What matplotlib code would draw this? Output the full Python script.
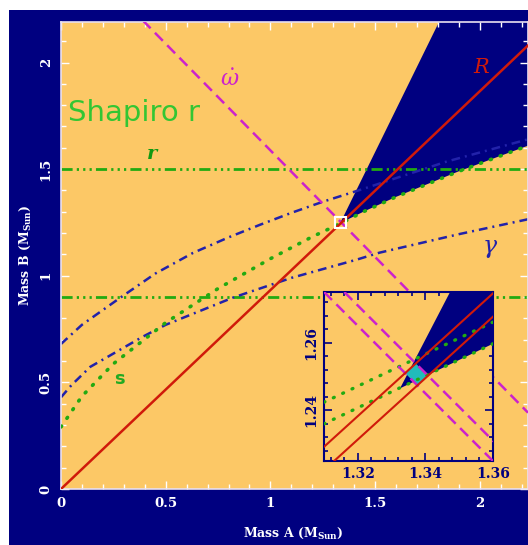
import matplotlib
matplotlib.use('Agg')
import matplotlib.pyplot as plt
from matplotlib.patches import Rectangle, Polygon
from matplotlib.ticker import MultipleLocator

# ---- data (masses in solar units) ----
# mass ratio R
R_a = [0.0, 2.23]
R_b = [0.0, 2.08]
# periastron advance (total mass)
omdot_a = [0.39, 2.23]
omdot_b = [2.198, 0.358]
# Shapiro s
s_a = [0.0, 0.1, 0.25, 0.5, 0.75, 1.0, 1.2, 1.3375, 1.45, 1.6, 1.9, 2.23]
s_b = [0.291, 0.435, 0.587, 0.78, 0.94, 1.08, 1.183, 1.2465, 1.303, 1.37, 1.49, 1.61]
# gamma, upper and lower bound
gam_hi_a = [0.0, 0.1, 0.28, 0.45, 0.63, 0.8, 0.95, 1.1, 1.25, 1.42, 1.84, 2.23]
gam_hi_b = [0.68, 0.77, 0.895, 1.01, 1.107, 1.18, 1.239, 1.295, 1.347, 1.40, 1.535, 1.64]
gam_lo_a = [0.0, 0.05, 0.14, 0.39, 0.5, 0.82, 1.1, 1.41, 1.52, 1.9, 2.23]
gam_lo_b = [0.43, 0.487, 0.573, 0.714, 0.77, 0.897, 0.99, 1.075, 1.108, 1.195, 1.265]
# Shapiro r band
r_levels = [0.9, 1.5]
# excluded wedge (mass functions)
wedge_a = [1.3325, 1.3473, 1.81, 2.3, 2.3, 2.23, 1.9, 1.6, 1.45, 1.36]
wedge_b = [1.2465, 1.275, 2.2, 2.2, 1.61, 1.61, 1.49, 1.37, 1.303, 1.2597]

# inset (zoom on the crossing point)
ins_R_hi_a = [1.31, 1.36]
ins_R_hi_b = [1.2292, 1.2746]
ins_R_lo_a = [1.313, 1.36]
ins_R_lo_b = [1.225, 1.2677]
ins_s_hi_a = [1.31, 1.36]
ins_s_hi_b = [1.2424, 1.2661]
ins_s_lo_a = [1.31, 1.36]
ins_s_lo_b = [1.2360, 1.2597]
ins_om_lo_a = [1.31, 1.36]
ins_om_lo_b = [1.275, 1.225]
ins_om_hi_a = [1.316, 1.366]
ins_om_hi_b = [1.275, 1.225]
allowed_a = [1.3340, 1.3372, 1.3408, 1.3377]
allowed_b = [1.2510, 1.2538, 1.2502, 1.2473]

NAVY = '#000080'
ORANGE = '#FCC866'
RED = '#D01A0A'
MAGENTA = '#CC22CC'
BLUE = '#2222AA'
GREEN = '#22AA11'
CYAN = '#22BBBB'

plt.rcParams['mathtext.fontset'] = 'dejavuserif'

fig = plt.figure(figsize=(5.28, 5.45), dpi=100)
fig.patch.set_facecolor('white')
fig.patches.append(Rectangle((9 / 528, 0), 1, 1 - 10 / 545, transform=fig.transFigure,
                             facecolor=NAVY, edgecolor='none', zorder=-10))

ax = fig.add_axes([61 / 528, 1 - 489 / 545, 1 - 61 / 528, 467 / 545])
ax.set_facecolor(ORANGE)
ax.set_xlim(0, 2.23)
ax.set_ylim(0, 2.19)

ax.add_patch(Polygon(list(zip(wedge_a, wedge_b)), closed=True, facecolor=NAVY,
                     edgecolor='none', zorder=1))

for lev in r_levels:
    ax.axhline(lev, color=GREEN, lw=2, linestyle=(0, (4, 1.5, 0.8, 1.5, 0.8, 1.5, 0.8, 1.5)), zorder=2)
ax.plot(gam_hi_a, gam_hi_b, color=BLUE, lw=1.8, linestyle=(0, (3.5, 2, 0.8, 2)), zorder=2)
ax.plot(gam_lo_a, gam_lo_b, color=BLUE, lw=1.8, linestyle=(0, (3.5, 2, 0.8, 2)), zorder=2)
ax.plot(s_a, s_b, color=GREEN, lw=2.6, linestyle=(0, (0.3, 2.6)), dash_capstyle='round', zorder=3)
ax.plot(omdot_a, omdot_b, color=MAGENTA, lw=1.8, linestyle=(0, (4.5, 2.5)), zorder=3)
ax.plot(R_a, R_b, color=RED, lw=1.8, zorder=4)
ax.add_patch(Rectangle((1.31, 1.225), 0.05, 0.05, facecolor='none', edgecolor='white',
                       lw=1.5, zorder=5))

ax.text(0.035, 1.765, 'Shapiro r', color='#33C633', fontsize=21, ha='left', va='center')
ax.text(0.435, 1.57, 'r', color='#119911', fontsize=14, family='DejaVu Serif',
        style='italic', weight='bold', ha='center', va='center')
ax.text(0.805, 1.92, r'$\dot{\omega}$', color=MAGENTA, fontsize=16, ha='center', va='center')
ax.text(2.005, 1.976, 'R', color=RED, fontsize=15, family='DejaVu Serif', style='italic',
        ha='center', va='center')
ax.text(2.05, 1.13, r'$\gamma$', color=BLUE, fontsize=17, ha='center', va='center')
ax.text(0.28, 0.515, 's', color='#22AA22', fontsize=13, weight='bold', ha='center', va='center')

ax.xaxis.set_major_locator(MultipleLocator(0.5))
ax.xaxis.set_minor_locator(MultipleLocator(0.1))
ax.yaxis.set_major_locator(MultipleLocator(0.5))
ax.yaxis.set_minor_locator(MultipleLocator(0.1))
ax.xaxis.set_major_formatter(plt.FuncFormatter(lambda v, p: '{:g}'.format(v)))
ax.yaxis.set_major_formatter(plt.FuncFormatter(lambda v, p: '{:g}'.format(v)))
ax.tick_params(which='both', direction='in', top=True, right=True, color='white',
               labelcolor='white', labelsize=9.5)
ax.tick_params(which='major', length=6, width=1, pad=6)
ax.tick_params(which='minor', length=3.5, width=1)
for lab in ax.get_xticklabels() + ax.get_yticklabels():
    lab.set_family('DejaVu Serif')
    lab.set_weight('bold')
for lab in ax.get_yticklabels():
    lab.set_rotation(90)
    lab.set_va('center')
for sp in ax.spines.values():
    sp.set_color('#E8E0F0')
    sp.set_linewidth(1.2)

fig.text(293 / 528, 1 - 533 / 545, r'Mass A (M$_{\mathbf{Sun}}$)', color='white',
         fontsize=9, family='DejaVu Serif', weight='bold', ha='center', va='center')
fig.text(25 / 528, 1 - 255 / 545, r'Mass B (M$_{\mathbf{Sun}}$)', color='white',
         fontsize=9, family='DejaVu Serif', weight='bold', ha='center', va='center',
         rotation=90)

# inset
ins = fig.add_axes([324 / 528, 1 - 461 / 545, 169 / 528, 169 / 545])
ins.set_facecolor(ORANGE)
ins.set_xlim(1.31, 1.36)
ins.set_ylim(1.225, 1.275)
ins.add_patch(Polygon(list(zip(wedge_a, wedge_b)), closed=True, facecolor=NAVY,
                      edgecolor='none', zorder=1))
ins.add_patch(Polygon(list(zip(allowed_a, allowed_b)), closed=True, facecolor=CYAN,
                      edgecolor='none', zorder=2))
ins.plot(ins_s_hi_a, ins_s_hi_b, color=GREEN, lw=2.4, linestyle=(0, (0.3, 2.8)),
         dash_capstyle='round', zorder=3)
ins.plot(ins_s_lo_a, ins_s_lo_b, color=GREEN, lw=2.4, linestyle=(0, (0.3, 2.8)),
         dash_capstyle='round', zorder=3)
ins.plot(ins_om_lo_a, ins_om_lo_b, color=MAGENTA, lw=1.8, linestyle=(0, (4.5, 2.5)), zorder=3)
ins.plot(ins_om_hi_a, ins_om_hi_b, color=MAGENTA, lw=1.8, linestyle=(0, (4.5, 2.5)), zorder=3)
ins.plot(ins_R_hi_a, ins_R_hi_b, color=RED, lw=1.5, zorder=4)
ins.plot(ins_R_lo_a, ins_R_lo_b, color=RED, lw=1.5, zorder=4)

ins.xaxis.set_major_locator(MultipleLocator(0.02))
ins.xaxis.set_minor_locator(MultipleLocator(0.004))
ins.yaxis.set_major_locator(MultipleLocator(0.02))
ins.yaxis.set_minor_locator(MultipleLocator(0.004))
ins.xaxis.set_major_formatter(plt.FuncFormatter(lambda v, p: '{:.2f}'.format(v)))
ins.yaxis.set_major_formatter(plt.FuncFormatter(lambda v, p: '{:.2f}'.format(v)))
ins.tick_params(which='both', direction='in', top=True, right=True, color=NAVY,
                labelcolor=NAVY, labelsize=10)
ins.tick_params(which='major', length=6, width=1.2, pad=4)
ins.tick_params(which='minor', length=3, width=1.2)
for lab in ins.get_xticklabels() + ins.get_yticklabels():
    lab.set_family('DejaVu Serif')
    lab.set_weight('bold')
for lab in ins.get_yticklabels():
    lab.set_rotation(90)
    lab.set_va('center')
for sp in ins.spines.values():
    sp.set_color(NAVY)
    sp.set_linewidth(1.5)

plt.savefig('out.png', dpi=100)
